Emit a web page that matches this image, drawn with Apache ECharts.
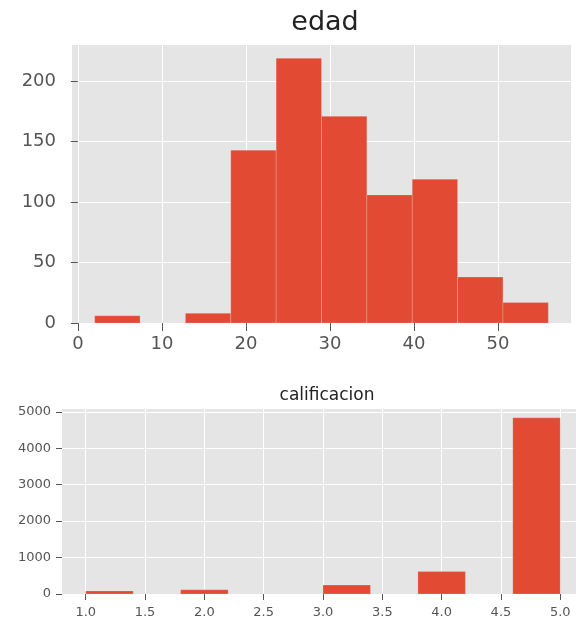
<!DOCTYPE html>
<html><head><meta charset="utf-8">
<script src="https://cdn.jsdelivr.net/npm/echarts@6/dist/echarts.min.js"></script>
<style>html,body{margin:0;padding:0;background:#fff}#c{width:576px;height:618px}</style>
</head><body><div id="c"></div>
<script>
// edad histogram
const edadEdges = [2, 7.4, 12.8, 18.2, 23.6, 29, 34.4, 39.8, 45.2, 50.6, 56];
const edadCounts = [6, 0, 8, 143, 219, 171, 106, 119, 38, 17];
const edadXTicks = [0, 10, 20, 30, 40, 50];
const edadYTicks = [0, 50, 100, 150, 200];
// calificacion histogram
const califEdges = [1.0, 1.4, 1.8, 2.2, 2.6, 3.0, 3.4, 3.8, 4.2, 4.6, 5.0];
const califCounts = [85, 0, 115, 0, 0, 245, 0, 615, 0, 4835];
const califXTicks = [1.0, 1.5, 2.0, 2.5, 3.0, 3.5, 4.0, 4.5, 5.0];
const califYTicks = [0, 1000, 2000, 3000, 4000, 5000];

const FONT = 'DejaVu Sans';
const BAR = '#E24A33';
const LABEL = '#555555';

function bins(edges, counts) {
  return counts.map((c, i) => [edges[i], edges[i + 1], c]);
}
function renderBar(params, api) {
  const c = api.value(2);
  if (!c) return null;
  const p0 = api.coord([api.value(0), c]);
  const p1 = api.coord([api.value(1), 0]);
  return {
    type: 'rect',
    shape: { x: p0[0], y: p0[1], width: p1[0] - p0[0], height: p1[1] - p0[1] },
    style: { fill: BAR, stroke: 'rgba(238,238,238,0.45)', lineWidth: 0.5 }
  };
}
function xAxisCfg(grid, min, max, ticks, fs, margin, tlen, fmt) {
  return {
    type: 'value', gridIndex: grid, min: min, max: max,
    axisLine: { show: false },
    axisTick: { show: true, length: tlen, customValues: ticks, lineStyle: { color: LABEL, width: 1 } },
    axisLabel: { customValues: ticks, fontSize: fs, fontFamily: FONT, color: LABEL, margin: margin,
      formatter: fmt },
    splitLine: { show: true, lineStyle: { color: '#FFFFFF', width: 1 } }
  };
}
function yAxisCfg(grid, min, max, ticks, fs, margin, tlen) {
  return {
    type: 'value', gridIndex: grid, min: min, max: max,
    axisLine: { show: false },
    axisTick: { show: true, length: tlen, customValues: ticks, lineStyle: { color: LABEL, width: 1 } },
    axisLabel: { customValues: ticks, fontSize: fs, fontFamily: FONT, color: LABEL, margin: margin,
      formatter: v => String(v) },
    splitLine: { show: true, lineStyle: { color: '#FFFFFF', width: 1 } }
  };
}

const chart = echarts.init(document.getElementById('c'), null, { renderer: 'canvas' });
chart.setOption({
  animation: false,
  backgroundColor: '#FFFFFF',
  title: [
    { text: 'edad', left: 320, top: 4, textAlign: 'center',
      textStyle: { fontFamily: FONT, fontSize: 27, fontWeight: 'normal', color: '#222222' } },
    { text: 'calificacion', left: 322, top: 382, textAlign: 'center',
      textStyle: { fontFamily: FONT, fontSize: 17, fontWeight: 'normal', color: '#222222' } }
  ],
  grid: [
    { left: 72, top: 45, width: 499, height: 278, show: true, backgroundColor: '#E5E5E5', borderWidth: 0, outerBoundsMode: 'none' },
    { left: 62, top: 409, width: 522, height: 185, show: true, backgroundColor: '#E5E5E5', borderWidth: 0, outerBoundsMode: 'none' }
  ],
  xAxis: [
    xAxisCfg(0, -0.7, 58.7, edadXTicks, 18, 12, 8, v => String(v)),
    xAxisCfg(1, 0.8, 5.2, califXTicks, 13, 12, 6, v => Number(v).toFixed(1))
  ],
  yAxis: [
    yAxisCfg(0, 0, 230, edadYTicks, 18, 16, 7),
    yAxisCfg(1, 0, 5077, califYTicks, 13, 11, 6)
  ],
  series: [
    { type: 'custom', xAxisIndex: 0, yAxisIndex: 0, renderItem: renderBar,
      encode: { x: [0, 1], y: 2 }, data: bins(edadEdges, edadCounts) },
    { type: 'custom', xAxisIndex: 1, yAxisIndex: 1, renderItem: renderBar,
      encode: { x: [0, 1], y: 2 }, data: bins(califEdges, califCounts) }
  ]
});
</script>
</body></html>
